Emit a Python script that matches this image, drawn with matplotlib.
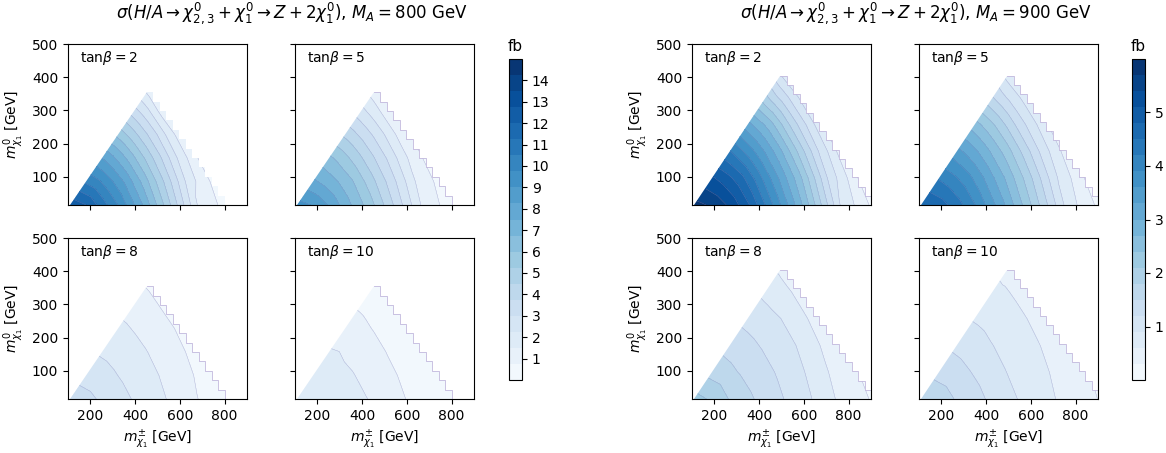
import numpy as np
import matplotlib
matplotlib.use("Agg")
import matplotlib.pyplot as plt
from matplotlib.patches import Polygon

# scan setup
mass_A = [800, 900]
tan_beta = [2, 5, 8, 10]
m_lsp_min = 15                       # lowest chi1 mass in the scan [GeV]
x_left0 = 110                        # chargino mass where the diagonal edge meets the bottom
apex = {800: (451, 355), 900: (495, 405)}   # top corner of the scanned region
n_steps = {800: 12, 900: 14}         # scan steps along the upper-right edge
edge_outline = {800: [False, True, True, True], 900: [True, True, True, True]}

# sample nodes: fraction across each row (diagonal -> right edge), fraction up (bottom -> top)
col_frac = [0, 0.1, 0.2, 0.3, 0.45, 0.6, 0.8, 1.0]
row_frac = [0, 0.2, 0.4, 0.6, 0.8, 1.0]

# cross sections [fb], one row per row_frac
xsec_800_tb2 = [
    [12.5, 12.0, 10.85, 9.71, 7.5, 4.93, 1.32, 0.35],
    [10.36, 9.85, 9.07, 8.15, 6.42, 4.53, 1.86, 0.49],
    [8.24, 7.72, 7.07, 6.34, 5.15, 3.88, 2.05, 0.7],
    [5.76, 5.37, 4.95, 4.5, 3.79, 3.04, 1.88, 0.96],
    [3.3, 3.1, 2.9, 2.69, 2.36, 1.93, 1.35, 1.06],
    [0.96, 0.96, 0.96, 0.96, 0.96, 0.96, 0.96, 0.96],
]
xsec_800_tb5 = [
    [9.29, 8.94, 8.14, 7.11, 5.62, 3.72, 1.08, 0.31],
    [7.66, 7.2, 6.7, 6.1, 4.81, 3.43, 1.44, 0.43],
    [6.16, 5.79, 5.3, 4.76, 3.88, 2.95, 1.57, 0.6],
    [4.32, 4.04, 3.73, 3.41, 2.88, 2.3, 1.45, 0.81],
    [2.5, 2.35, 2.19, 2.03, 1.77, 1.49, 1.1, 0.88],
    [0.81, 0.81, 0.81, 0.81, 0.81, 0.81, 0.81, 0.81],
]
xsec_800_tb8 = [
    [3.4, 3.21, 2.87, 2.52, 2.01, 1.49, 0.73, 0.28],
    [2.71, 2.56, 2.35, 2.13, 1.8, 1.41, 0.83, 0.38],
    [2.15, 2.05, 1.93, 1.79, 1.54, 1.27, 0.87, 0.5],
    [1.68, 1.6, 1.5, 1.4, 1.25, 1.09, 0.84, 0.61],
    [1.15, 1.1, 1.06, 1.01, 0.94, 0.85, 0.73, 0.65],
    [0.61, 0.61, 0.61, 0.61, 0.61, 0.61, 0.61, 0.61],
]
xsec_800_tb10 = [
    [2.1, 2.03, 1.89, 1.72, 1.48, 0.95, 0.41, 0.2],
    [1.81, 1.73, 1.65, 1.55, 1.26, 0.86, 0.46, 0.26],
    [1.56, 1.51, 1.39, 1.25, 1.0, 0.73, 0.47, 0.32],
    [1.13, 1.05, 0.96, 0.86, 0.71, 0.6, 0.46, 0.36],
    [0.64, 0.61, 0.58, 0.54, 0.5, 0.46, 0.41, 0.38],
    [0.36, 0.36, 0.36, 0.36, 0.36, 0.36, 0.36, 0.36],
]
xsec_900_tb2 = [
    [5.8, 5.65, 5.32, 4.81, 3.76, 2.62, 0.87, 0.13],
    [5.15, 4.92, 4.6, 4.12, 3.32, 2.48, 1.11, 0.28],
    [4.22, 3.96, 3.67, 3.34, 2.8, 2.15, 1.22, 0.49],
    [3.1, 2.92, 2.74, 2.54, 2.14, 1.7, 1.18, 0.67],
    [1.89, 1.77, 1.65, 1.54, 1.39, 1.23, 1.01, 0.79],
    [0.72, 0.72, 0.72, 0.72, 0.72, 0.72, 0.72, 0.72],
]
xsec_900_tb5 = [
    [4.8, 4.65, 4.32, 3.88, 3.04, 2.1, 0.76, 0.13],
    [4.17, 3.97, 3.7, 3.32, 2.69, 1.98, 0.93, 0.27],
    [3.4, 3.2, 2.97, 2.7, 2.26, 1.73, 1.01, 0.45],
    [2.52, 2.37, 2.21, 2.03, 1.72, 1.38, 0.99, 0.6],
    [1.52, 1.43, 1.34, 1.26, 1.14, 1.02, 0.86, 0.69],
    [0.64, 0.64, 0.64, 0.64, 0.64, 0.64, 0.64, 0.64],
]
xsec_900_tb8 = [
    [2.2, 2.05, 1.76, 1.55, 1.27, 1.0, 0.53, 0.23],
    [1.69, 1.59, 1.47, 1.36, 1.17, 0.96, 0.59, 0.3],
    [1.38, 1.32, 1.25, 1.17, 1.04, 0.9, 0.62, 0.41],
    [1.11, 1.07, 1.03, 0.98, 0.9, 0.78, 0.61, 0.48],
    [0.83, 0.8, 0.77, 0.73, 0.68, 0.63, 0.57, 0.51],
    [0.49, 0.49, 0.49, 0.49, 0.49, 0.49, 0.49, 0.49],
]
xsec_900_tb10 = [
    [1.75, 1.65, 1.46, 1.29, 1.02, 0.78, 0.51, 0.25],
    [1.4, 1.33, 1.22, 1.11, 0.91, 0.76, 0.55, 0.33],
    [1.13, 1.07, 1.0, 0.92, 0.82, 0.71, 0.57, 0.41],
    [0.87, 0.84, 0.81, 0.77, 0.71, 0.65, 0.56, 0.47],
    [0.68, 0.66, 0.64, 0.63, 0.6, 0.57, 0.53, 0.49],
    [0.48, 0.48, 0.48, 0.48, 0.48, 0.48, 0.48, 0.48],
]

xsec = {
    800: [xsec_800_tb2, xsec_800_tb5, xsec_800_tb8, xsec_800_tb10],
    900: [xsec_900_tb2, xsec_900_tb5, xsec_900_tb8, xsec_900_tb10],
}
levels = {800: np.linspace(0, 15, 21), 900: np.linspace(0, 6, 21)}
cbar_ticks = {800: range(1, 15), 900: range(1, 6)}


def scan_region(ma):
    # staircase outline of the scanned points, from bottom-right up to the apex
    ax_, ay_ = apex[ma]
    n = n_steps[ma]
    w = (ma - ax_) / n
    h = (ay_ - m_lsp_min) / n
    stair = [(ma, m_lsp_min)]
    for k in range(n):
        xs = ma - k * w
        ys = m_lsp_min + (k + 1) * h
        stair += [(xs, ys), (xs - w, ys)]
    return [(x_left0, m_lsp_min)] + stair, stair, w


def node_grid(ma):
    ax_, ay_ = apex[ma]
    _, _, w = scan_region(ma)
    # left edge: (x_left0, ymin) -> apex ; right edge: (ma + w, ymin) -> (apex_x + w, apex_y)
    sl = (ax_ - x_left0) / (ay_ - m_lsp_min)
    sr = (ax_ - ma) / (ay_ - m_lsp_min)
    top = m_lsp_min + (ma + w - x_left0) / (sl - sr)
    y = m_lsp_min + np.array(row_frac) * (top - m_lsp_min)
    xl = x_left0 + sl * (y - m_lsp_min)
    xr = ma + w + sr * (y - m_lsp_min)
    X = xl[:, None] + np.array(col_frac)[None, :] * (xr - xl)[:, None]
    Y = np.repeat(y[:, None], len(col_frac), axis=1)
    return X, Y


W, H = 1166, 453
fig = plt.figure(figsize=(W / 100, H / 100), dpi=100)

def px_axes(x0, y0, x1, y1):
    return fig.add_axes([x0 / W, 1 - y1 / H, (x1 - x0) / W, (y1 - y0) / H])

group_x = {800: [(68, 247), (295, 474)], 900: [(692, 871), (919, 1098)]}
row_y = [(44, 205), (238, 399)]
cbar_x = {800: 509, 900: 1132}
title_x = {800: 292, 900: 916}

for ma in mass_A:
    X, Y = node_grid(ma)
    outline, stair, _ = scan_region(ma)
    for k, tb in enumerate(tan_beta):
        r, c = divmod(k, 2)
        (x0, x1), (y0, y1) = group_x[ma][c], row_y[r]
        ax = px_axes(x0, y0, x1, y1)
        Z = np.array(xsec[ma][k])
        clip = Polygon(outline, closed=True, transform=ax.transData)
        cs = ax.contourf(X, Y, Z, levels=levels[ma], cmap="Blues")
        cs.set_clip_path(clip)
        cl = ax.contour(X, Y, Z, levels=levels[ma], colors="#8d89bd",
                        linewidths=0.35, alpha=0.55)
        cl.set_clip_path(clip)
        if edge_outline[ma][k]:
            sx, sy = zip(*stair)
            ax.plot(sx, sy, color="#c2b8dd", lw=0.6)
        ax.set_xlim(100, 900)
        ax.set_ylim(m_lsp_min, 500)
        ax.set_xticks([200, 400, 600, 800])
        ax.set_yticks([100, 200, 300, 400, 500])
        ax.text(0.065, 0.915, r"tan$\beta = %d$" % tb, transform=ax.transAxes,
                va="center", ha="left", fontsize=10)
        if r == 1:
            ax.set_xlabel(r"$m^{\pm}_{\chi_1}$ [GeV]")
        else:
            ax.set_xticklabels([])
        if c == 0:
            ax.set_ylabel(r"$m^{0}_{\chi_1}$ [GeV]")
        else:
            ax.set_yticklabels([])

    cax = px_axes(cbar_x[ma], 59, cbar_x[ma] + 13, 380)
    cb = fig.colorbar(cs, cax=cax, ticks=list(cbar_ticks[ma]))
    cax.set_title("fb", fontsize=11)
    fig.text(title_x[ma] / W, 1 - 13 / H,
             r"$\sigma(H/A \rightarrow \chi^0_{2,3} + \chi^0_1 \rightarrow Z + 2\chi^0_1)$, $M_A = %d$ GeV" % ma,
             ha="center", va="center", fontsize=12)

fig.savefig("out.png", dpi=100)
